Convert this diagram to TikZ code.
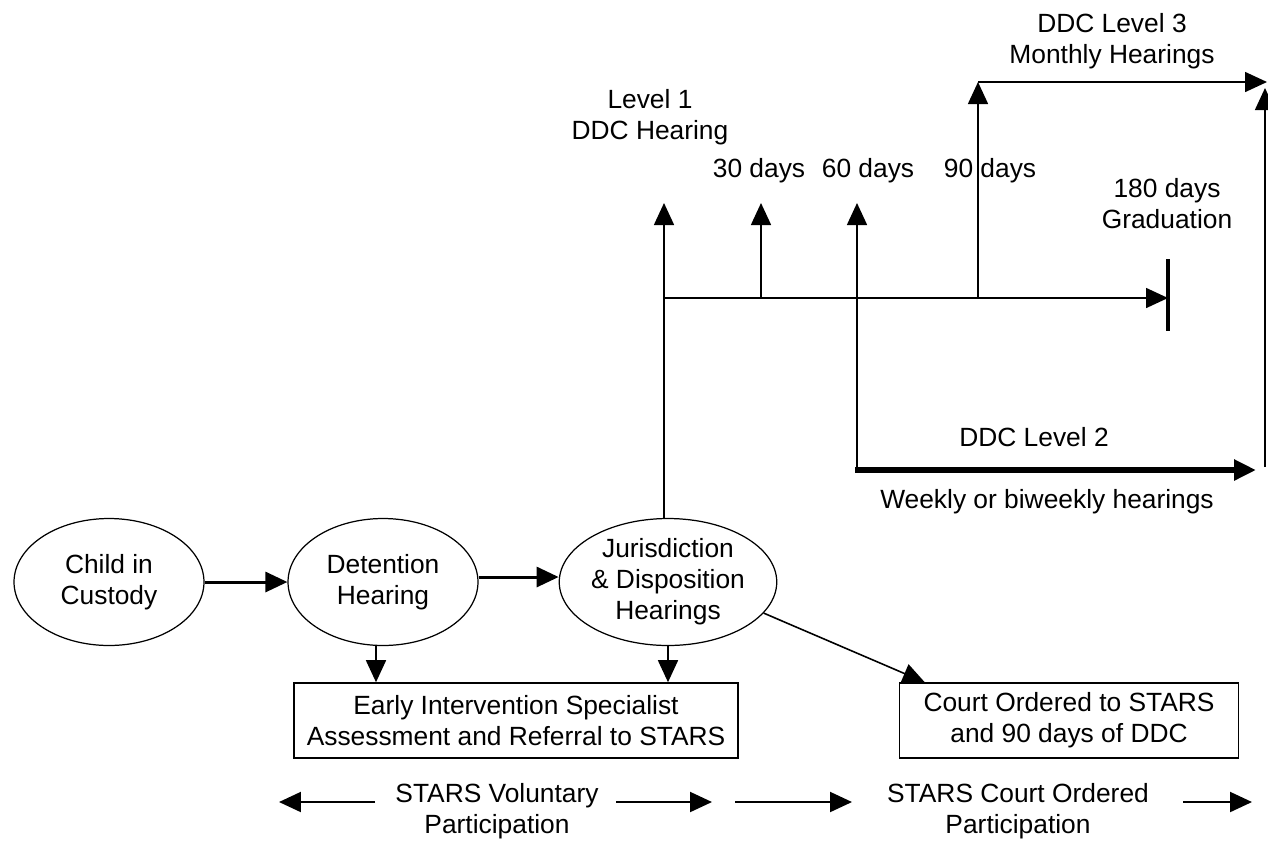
\documentclass[tikz,border=0pt]{standalone}
\usepackage{fontspec}
\setmainfont{Liberation Sans}
\usetikzlibrary{arrows.meta, shapes.geometric}

\begin{document}
\begin{tikzpicture}[x=0.02cm, y=-0.02cm,
  every node/.style={font=\fontsize{15}{17.6}\selectfont, align=center},
  oval/.style={draw, ellipse, line width=0.7pt, minimum width=3.8cm, minimum height=2.54cm, inner sep=0pt},
  box/.style={draw, rectangle, line width=0.9pt, minimum height=1.5cm, inner sep=0pt},
  tip/.style={-{Triangle[length=0.44cm, width=0.4cm]}},
  flow/.style={tip, line width=1.7pt},
  tick/.style={tip, line width=0.9pt}]
\useasboundingbox (0,0) rectangle (1268,840);

% hearings
\node [oval] (child) at (109,582) {Child in\\Custody};
\node [oval] (detention) at (383,582) {Detention\\Hearing};
\node [oval] (juris) at (668,582) {Jurisdiction\\\& Disposition\\Hearings};
\node [box, minimum width=8.88cm] (early) at (516,720.5) {Early Intervention Specialist\\Assessment and Referral to STARS};
\node [box, minimum width=6.78cm] (court) at (1069,720.5) {Court Ordered to STARS\\and 90 days of DDC};

\draw [flow] (child) -- (detention);
\draw [flow] ([yshift=0.1cm]detention.east) -- ([yshift=0.1cm]juris.west);
\draw [tick] ([xshift=-0.14cm]detention.south) -- ([xshift=-0.14cm]detention.south |- early.north);
\draw [tick] (juris.south) -- (juris.south |- early.north);
\draw [tick] (juris.-18) -- ([xshift=0.52cm]court.north west);

% DDC time line
\node (lvone) at (650,117) {Level 1\\DDC Hearing};
\node (thirty) at (759,171) {30 days};
\node (sixty) at (868,171) {60 days};
\node (ninety) at (990,171) {90 days};
\node (grad) at (1167,204) {180 days\\Graduation};
\node (lvthree) at (1112,41) {DDC Level 3\\Monthly Hearings};
\node (lvtwo) at (1034,437) {DDC Level 2};
\node (weekly) at (1047,502) {Weekly or biweekly hearings};

\coordinate (tiprow) at (0,203);
\coordinate (t0) at (664,298);
\coordinate (t30) at (761,298);
\coordinate (t90) at (978,298);
\coordinate (t180) at (1168,298);
\coordinate (l2a) at (857,470);
\coordinate (l2b) at (1256,470);
\coordinate (l3a) at (978,82);
\coordinate (l3b) at (1267,82);
\coordinate (rb) at (1265,467);
\coordinate (rt) at (1265,88);

\draw [tick] (t0 |- juris.north) -- (t0 |- tiprow);
\draw [tick] (t0) -- (t180);
\draw [tick] (t30) -- (t30 |- tiprow);
\draw [tick] (l2a) -- (l2a |- tiprow);
\draw [tip, line width=3.4pt] ([xshift=-0.04cm]l2a) -- (l2b);
\draw [tick] (t90) -- (l3a);
\draw [tick] (l3a) -- (l3b);
\draw [tick] (rb) -- (rt);
\draw [line width=2.6pt] ([yshift=0.78cm]t180) -- ([yshift=-0.66cm]t180);

% participation
\node (vol) at (497,811) {STARS Voluntary\\Participation};
\node (ord) at (1018,811) {STARS Court Ordered\\Participation};

\coordinate (v0) at (279,802);
\coordinate (v1) at (375,802);
\coordinate (v2) at (616,802);
\coordinate (v3) at (712,802);
\coordinate (c0) at (735,802);
\coordinate (c1) at (852,802);
\coordinate (c2) at (1183,802);
\coordinate (c3) at (1252,802);
\foreach \a/\b in {v1/v0, v2/v3, c0/c1, c2/c3}
  \draw [tip, line width=1.2pt] (\a) -- (\b);
\end{tikzpicture}
\end{document}
